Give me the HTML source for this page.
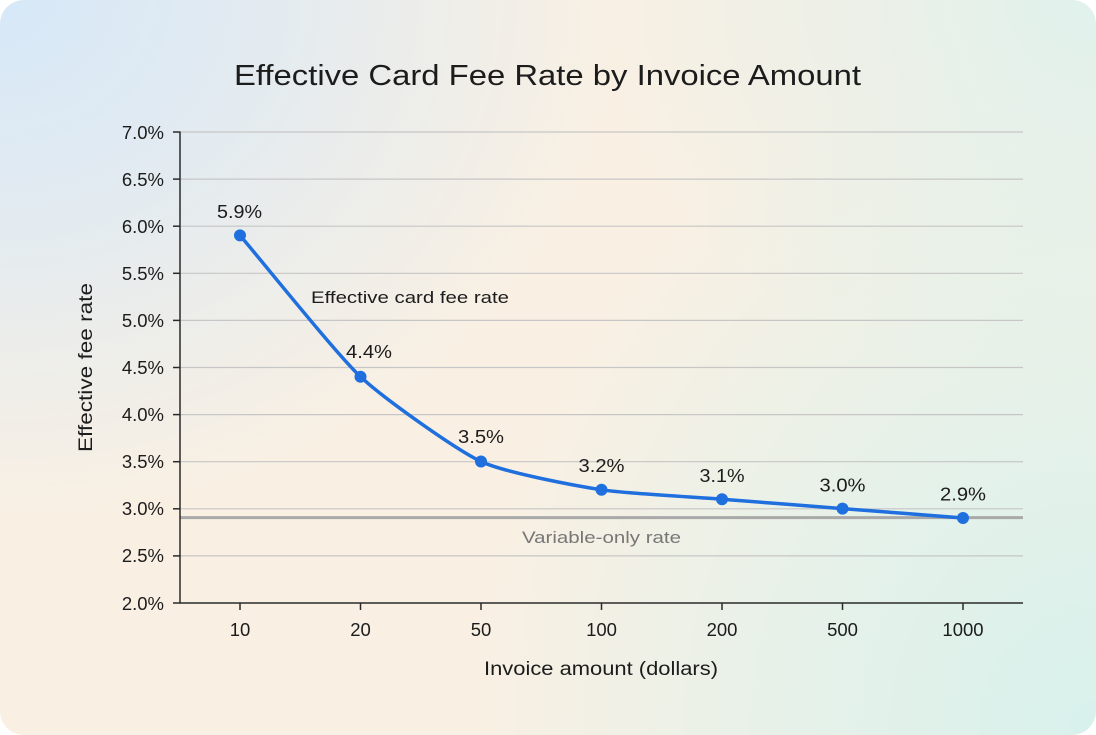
<!DOCTYPE html>
<html>
<head>
<meta charset="utf-8">
<style>
html,body{margin:0;padding:0;background:#ffffff;}
body{width:1096px;height:735px;overflow:hidden;}
.card{position:absolute;left:0;top:0;width:1096px;height:735px;border-radius:24px;overflow:hidden;
background:
radial-gradient(ellipse 620px 520px at 0px 0px, rgba(214,232,248,1) 0%, rgba(214,232,248,0.6) 45%, rgba(214,232,248,0) 100%),
radial-gradient(ellipse 620px 700px at 1096px 735px, rgba(216,241,236,1) 0%, rgba(220,242,236,0.7) 45%, rgba(220,242,236,0) 100%),
radial-gradient(ellipse 500px 400px at 1096px 0px, rgba(224,241,236,1) 0%, rgba(224,241,236,0) 100%),
#f9f0e3;}
svg{position:absolute;left:0;top:0;}
text{font-family:"Liberation Sans",sans-serif;fill:#1c1c1c;}
</style>
</head>
<body>
<div class="card">
<svg width="1096" height="735" viewBox="0 0 1096 735" xmlns="http://www.w3.org/2000/svg">
  <!-- title -->
  <text x="234" y="85" font-size="29" textLength="627" lengthAdjust="spacingAndGlyphs">Effective Card Fee Rate by Invoice Amount</text>

  <!-- gridlines -->
  <g stroke="#c6c6c6" stroke-width="1.2">
    <line x1="180" y1="132" x2="1023" y2="132"/>
    <line x1="180" y1="179.1" x2="1023" y2="179.1"/>
    <line x1="180" y1="226.2" x2="1023" y2="226.2"/>
    <line x1="180" y1="273.3" x2="1023" y2="273.3"/>
    <line x1="180" y1="320.4" x2="1023" y2="320.4"/>
    <line x1="180" y1="367.5" x2="1023" y2="367.5"/>
    <line x1="180" y1="414.6" x2="1023" y2="414.6"/>
    <line x1="180" y1="461.7" x2="1023" y2="461.7"/>
    <line x1="180" y1="508.8" x2="1023" y2="508.8"/>
    <line x1="180" y1="555.9" x2="1023" y2="555.9"/>
  </g>

  <!-- variable-only reference line -->
  <line x1="180" y1="517.6" x2="1023" y2="517.6" stroke="#a9a9a9" stroke-width="3"/>
  <text x="522" y="543" font-size="17" style="fill:#777777" textLength="159" lengthAdjust="spacingAndGlyphs">Variable-only rate</text>

  <!-- axes -->
  <g stroke="#2a2a2a" stroke-width="1.5">
    <line x1="180" y1="131.5" x2="180" y2="603"/>
    <line x1="179.3" y1="603" x2="1023" y2="603"/>
    <line x1="173" y1="132" x2="180" y2="132"/>
    <line x1="173" y1="179.1" x2="180" y2="179.1"/>
    <line x1="173" y1="226.2" x2="180" y2="226.2"/>
    <line x1="173" y1="273.3" x2="180" y2="273.3"/>
    <line x1="173" y1="320.4" x2="180" y2="320.4"/>
    <line x1="173" y1="367.5" x2="180" y2="367.5"/>
    <line x1="173" y1="414.6" x2="180" y2="414.6"/>
    <line x1="173" y1="461.7" x2="180" y2="461.7"/>
    <line x1="173" y1="508.8" x2="180" y2="508.8"/>
    <line x1="173" y1="555.9" x2="180" y2="555.9"/>
    <line x1="173" y1="603" x2="180" y2="603"/>
    <line x1="240" y1="603" x2="240" y2="610"/>
    <line x1="360.5" y1="603" x2="360.5" y2="610"/>
    <line x1="481" y1="603" x2="481" y2="610"/>
    <line x1="601.5" y1="603" x2="601.5" y2="610"/>
    <line x1="722" y1="603" x2="722" y2="610"/>
    <line x1="842.5" y1="603" x2="842.5" y2="610"/>
    <line x1="963" y1="603" x2="963" y2="610"/>
  </g>

  <!-- y tick labels -->
  <g font-size="18.5" text-anchor="end">
    <text x="164" y="139">7.0%</text>
    <text x="164" y="186">6.5%</text>
    <text x="164" y="233">6.0%</text>
    <text x="164" y="280">5.5%</text>
    <text x="164" y="327">5.0%</text>
    <text x="164" y="374">4.5%</text>
    <text x="164" y="421">4.0%</text>
    <text x="164" y="468">3.5%</text>
    <text x="164" y="515">3.0%</text>
    <text x="164" y="562">2.5%</text>
    <text x="164" y="610">2.0%</text>
  </g>

  <!-- x tick labels -->
  <g font-size="18.5" text-anchor="middle">
    <text x="240" y="636">10</text>
    <text x="360.5" y="636">20</text>
    <text x="481" y="636">50</text>
    <text x="601.5" y="636">100</text>
    <text x="722" y="636">200</text>
    <text x="842.5" y="636">500</text>
    <text x="963" y="636">1000</text>
  </g>

  <!-- axis titles -->
  <text x="484" y="675" font-size="19" textLength="234" lengthAdjust="spacingAndGlyphs">Invoice amount (dollars)</text>
  <text transform="translate(92,452) rotate(-90)" x="0" y="0" font-size="19" textLength="169" lengthAdjust="spacingAndGlyphs">Effective fee rate</text>

  <!-- series -->
  <path d="M240,235.4 C264,263.5 336.5,354.2 360.5,376.7 C384.5,399.2 457,450.2 481,461.5 C505,472.8 577.5,486.1 601.5,489.8 C625.5,493.5 698,497.3 722,499.2 C746,501.1 818.5,506.7 842.5,508.6 C866.5,510.5 939,516.1 963,518"
        fill="none" stroke="#1f6fde" stroke-width="3.5" stroke-linejoin="round" stroke-linecap="round"/>
  <g fill="#1f6fde">
    <circle cx="240" cy="235.4" r="6"/>
    <circle cx="360.5" cy="376.7" r="6"/>
    <circle cx="481" cy="461.5" r="6"/>
    <circle cx="601.5" cy="489.8" r="6"/>
    <circle cx="722" cy="499.2" r="6"/>
    <circle cx="842.5" cy="508.6" r="6"/>
    <circle cx="963" cy="518" r="6"/>
  </g>

  <!-- series label -->
  <text x="311" y="303" font-size="17" textLength="198" lengthAdjust="spacingAndGlyphs">Effective card fee rate</text>

  <!-- data labels -->
  <g font-size="18.5" text-anchor="middle">
    <text x="239.5" y="218" textLength="45" lengthAdjust="spacingAndGlyphs">5.9%</text>
    <text x="369" y="358" textLength="46" lengthAdjust="spacingAndGlyphs">4.4%</text>
    <text x="481" y="443" textLength="46" lengthAdjust="spacingAndGlyphs">3.5%</text>
    <text x="601.5" y="472" textLength="46" lengthAdjust="spacingAndGlyphs">3.2%</text>
    <text x="722" y="482" textLength="45" lengthAdjust="spacingAndGlyphs">3.1%</text>
    <text x="842.5" y="491.5" textLength="46" lengthAdjust="spacingAndGlyphs">3.0%</text>
    <text x="963" y="500.5" textLength="46" lengthAdjust="spacingAndGlyphs">2.9%</text>
  </g>
</svg>
</div>
</body>
</html>
